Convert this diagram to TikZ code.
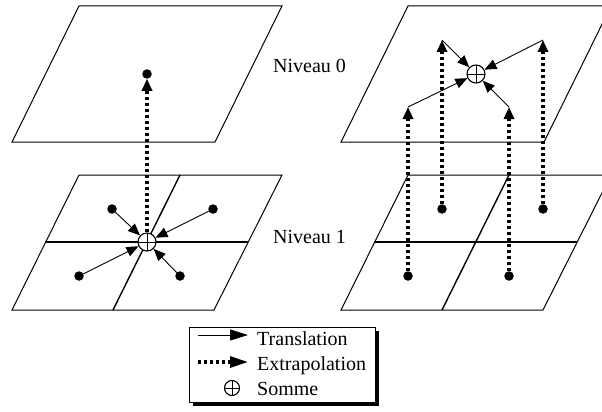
\documentclass[tikz,border=0pt]{standalone}
\usepackage{fontspec}
\setmainfont{Liberation Serif}
\usetikzlibrary{arrows.meta, shadows}

\begin{document}
\begin{tikzpicture}[x=1pt,y=-1pt]
  \tikzset{plan/.style={line width=1pt}};
  \tikzset{grille/.style={line width=1.4pt}};
  \tikzset{pt/.style={circle,fill=black,minimum size=9.5pt,inner sep=0pt,outer sep=0pt}};
  \tikzset{somme/.style={circle,draw,fill=white,line width=1.1pt,minimum size=18pt,inner sep=0pt,
      path picture={\draw[line width=0.9pt] (path picture bounding box.north) -- (path picture bounding box.south)
        (path picture bounding box.west) -- (path picture bounding box.east);}}};
  \tikzset{relT/.style={line width=0.9pt, -{Triangle[length=12pt,width=10pt]}}};
  \tikzset{relX/.style={line width=3.2pt, dash pattern=on 3pt off 3pt, -{Triangle[length=12pt,width=10pt]}}};
  \tikzset{relTL/.style={relT, -{Triangle[length=18pt,width=11pt]}}};
  \tikzset{relXL/.style={relX, -{Triangle[length=18pt,width=11pt]}}};
  \tikzset{lbl/.style={font=\fontsize{20}{24}\selectfont, inner sep=0pt, anchor=base west}};
  \def\dx{329};

  \clip (0,0) rectangle (602,412);

  % niveau 0
  \draw[plan] (79,6) -- (282,6) -- (215,142) -- (12,142) -- cycle;
  \draw[plan] (79+\dx,6) -- (282+\dx,6) -- (215+\dx,142) -- (12+\dx,142) -- cycle;

  % niveau 1
  \foreach \s in {0,\dx} {
    \draw[plan] (79+\s,175) -- (282+\s,175) -- (214+\s,310) -- (12+\s,310) -- cycle;
    \draw[grille] (45+\s,242) -- (248+\s,242);
    \draw[grille] (180+\s,175) -- (113+\s,310);
  }

  \node[lbl] (n0) at (273,73) {Niveau 0};
  \node[lbl] (n1) at (273,243) {Niveau 1};

  % gauche
  \node[pt] (a0) at (147,74) {};
  \node[pt] (a1) at (112,209) {};
  \node[pt] (a2) at (213,209) {};
  \node[pt] (a3) at (79,276) {};
  \node[pt] (a4) at (180,276) {};
  \node[somme] (s1) at (147,242) {};
  \foreach \p in {a1,a2,a3,a4}
    \draw[relT] (\p) -- (s1);
  \draw[relX] (s1) -- (a0);

  % droite
  \node[pt] (b1) at (442,209) {};
  \node[pt] (b2) at (543,209) {};
  \node[pt] (b3) at (408,276) {};
  \node[pt] (b4) at (509,276) {};
  \coordinate (c1) at (442,40);
  \coordinate (c2) at (543,40);
  \coordinate (c3) at (408,107);
  \coordinate (c4) at (509,107);
  \node[somme] (s0) at (476,74) {};
  \foreach \i in {1,2,3,4} {
    \draw[relX] (b\i) -- (c\i);
    \draw[relT] (c\i) -- (s0);
  }

  % legende
  \node[draw, line width=1pt, fill=white, minimum width=186pt, minimum height=75pt, inner sep=0pt,
    drop shadow={shadow xshift=4pt, shadow yshift=-4pt, fill=black, opacity=1}] (leg) at (282,364.5) {};
  \coordinate (lt1) at (198,335);
  \coordinate (lt2) at (248,335);
  \coordinate (lx1) at (198,362);
  \coordinate (lx2) at (248,362);
  \draw[relTL] (lt1) -- (lt2);
  \draw[relXL] (lx1) -- (lx2);
  \node[somme, minimum size=15pt] (ls) at (232,388) {};
  \node[lbl] (tt) at (257,345) {Translation};
  \node[lbl] (tx) at (257,370) {Extrapolation};
  \node[lbl] (ts) at (257,395) {Somme};
\end{tikzpicture}
\end{document}
